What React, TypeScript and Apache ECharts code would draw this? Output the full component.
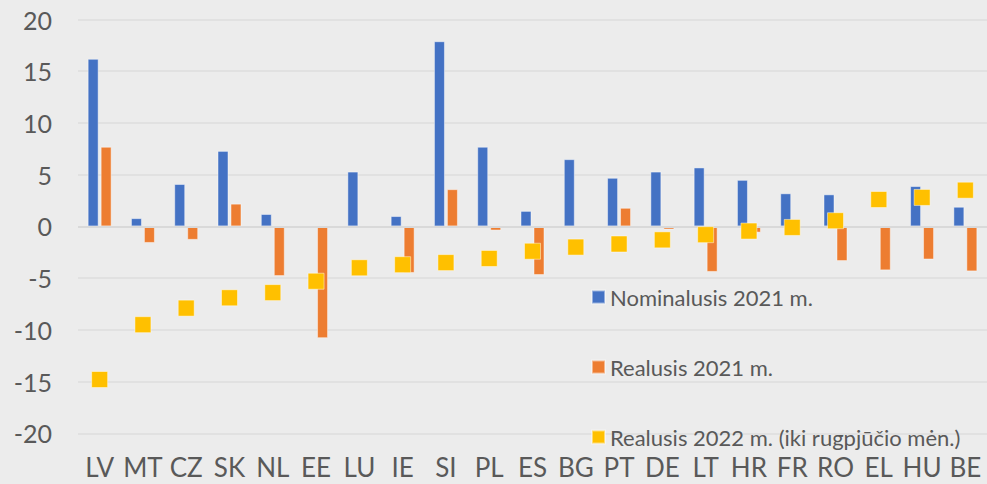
import React, { useEffect, useRef } from "react";
import * as echarts from "echarts";

const categories = ["LV","MT","CZ","SK","NL","EE","LU","IE","SI","PL","ES","BG","PT","DE","LT","HR","FR","RO","EL","HU","BE"];
const nominal2021 = [16.2,0.8,4.1,7.3,1.2,0,5.3,1.0,17.9,7.7,1.5,6.5,4.7,5.3,5.7,4.5,3.2,3.1,0,3.9,1.9];
const real2021 = [7.7,-1.6,-1.3,2.2,-4.8,-10.8,0,-4.5,3.6,-0.4,-4.7,0,1.8,-0.3,-4.4,-0.6,-0.1,-3.35,-4.25,-3.2,-4.35];
const real2022 = [-14.8,-9.5,-7.9,-6.9,-6.4,-5.3,-4.0,-3.7,-3.5,-3.1,-2.4,-2.0,-1.7,-1.3,-0.8,-0.45,-0.1,0.55,2.6,2.8,3.5];
const seriesNames = ["Nominalusis 2021 m.","Realusis 2021 m.","Realusis 2022 m. (iki rugpjūčio mėn.)"];

const FONT = "Lato";

export default function App() {
  const ref = useRef<HTMLDivElement>(null);
  useEffect(() => {
    if (!ref.current) return;
    const chart = echarts.init(ref.current, null, { renderer: "svg" });
    chart.setOption({
      animation: false,
      backgroundColor: "#ececec",
      textStyle: { fontFamily: FONT },
      grid: { left: 78, right: 0, top: 19.5, bottom: 50.7 },
      legend: {
        orient: "vertical",
        left: 591,
        top: 286,
        padding: 0,
        itemWidth: 13,
        itemHeight: 13,
        itemGap: 48,
        icon: "rect",
        textStyle: { fontFamily: FONT, fontSize: 22, color: "#595959", lineHeight: 22 },
        data: seriesNames,
      },
      xAxis: {
        type: "category",
        data: categories,
        axisLine: { show: false, onZero: false },
        axisTick: { show: false },
        axisLabel: { interval: 0, color: "#595959", fontSize: 26, fontFamily: FONT, margin: 21 },
      },
      yAxis: {
        type: "value",
        min: -20,
        max: 20,
        interval: 5,
        axisLine: { show: false },
        axisTick: { show: false },
        axisLabel: { color: "#595959", fontSize: 25, fontFamily: FONT, margin: 26 },
        splitLine: { lineStyle: { color: "#dedede", width: 1.5 } },
      },
      series: [
        {
          name: seriesNames[0],
          type: "bar",
          data: nominal2021,
          barWidth: 11,
          barGap: "18%",
          itemStyle: { color: "#4472C4", borderColor: "rgba(255,255,255,0.45)", borderWidth: 1 },
          markLine: {
            silent: true,
            symbol: "none",
            label: { show: false },
            lineStyle: { color: "#d9d9d9", width: 2, type: "solid" },
            data: [{ yAxis: 0 }],
          },
        },
        {
          name: seriesNames[1],
          type: "bar",
          data: real2021,
          barWidth: 11,
          itemStyle: { color: "#ED7D31", borderColor: "rgba(255,255,255,0.45)", borderWidth: 1 },
        },
        {
          name: seriesNames[2],
          type: "scatter",
          data: real2022,
          symbol: "rect",
          symbolSize: 16,
          z: 5,
          itemStyle: { color: "#FFC000", borderColor: "rgba(255,255,255,0.45)", borderWidth: 1, opacity: 1 },
        },
      ],
    });
    return () => chart.dispose();
  }, []);
  return <div ref={ref} style={{ position: "fixed", left: 0, top: 0, width: 987, height: 484 }} />;
}
